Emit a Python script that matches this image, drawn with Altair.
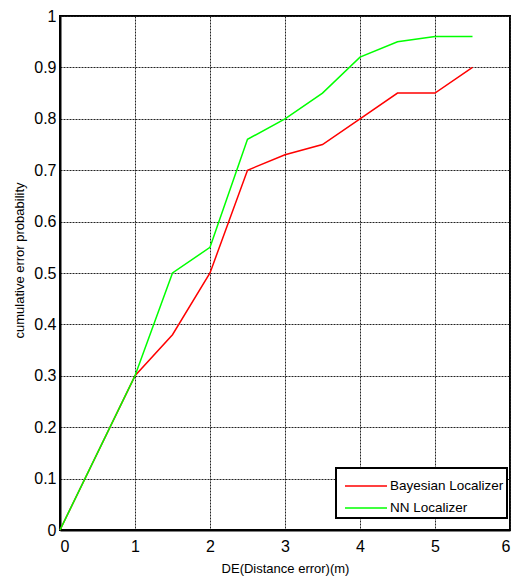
import altair as alt
import pandas as pd

x_vals = [0, 1, 1.5, 2, 2.5, 3, 3.5, 4, 4.5, 5, 5.5]
bayes = [0, 0.3, 0.38, 0.5, 0.7, 0.73, 0.75, 0.8, 0.85, 0.85, 0.9]
nn = [0, 0.3, 0.5, 0.55, 0.76, 0.8, 0.85, 0.92, 0.95, 0.96, 0.96]
series_names = ["Bayesian Localizer", "NN Localizer"]
series_colors = ["#ff0000", "#00ff00"]

rows = []
for xv, b in zip(x_vals, bayes):
    rows.append({"x": xv, "y": b, "series": series_names[0]})
for xv, n in zip(x_vals, nn):
    rows.append({"x": xv, "y": n, "series": series_names[1]})
df = pd.DataFrame(rows)

FONT = "Liberation Sans"

chart = alt.Chart(df).mark_line(strokeWidth=1.5).encode(
    x=alt.X("x:Q", scale=alt.Scale(domain=[0, 6], nice=False),
            axis=alt.Axis(values=[0, 1, 2, 3, 4, 5, 6], title="DE(Distance error)(m)",
                          format="d")),
    y=alt.Y("y:Q", scale=alt.Scale(domain=[0, 1], nice=False),
            axis=alt.Axis(values=[0, 0.1, 0.2, 0.3, 0.4, 0.5, 0.6, 0.7, 0.8, 0.9, 1],
                          title="cumulative error probability", titleY=244,
                          labelExpr="datum.value == 0 ? '0' : datum.value == 1 ? '1' : format(datum.value, '.1f')")),
    color=alt.Color("series:N", scale=alt.Scale(domain=series_names, range=series_colors),
                    legend=alt.Legend(title=None, orient="none", legendX=276, legendY=452,
                                      symbolType="M-1.5,0L1.5,0", symbolSize=784,
                                      symbolStrokeWidth=1.5, symbolOffset=12,
                                      labelFont=FONT, labelFontSize=13.5, labelColor="black",
                                      strokeColor="black", fillColor="white",
                                      padding=3, rowPadding=0, labelOffset=9,
                                      labelLimit=200)),
).properties(
    width=450, height=514,
    autosize=alt.AutoSizeParams(type="none"),
    padding={"left": 60, "top": 16, "right": 2, "bottom": 53},
).configure_view(
    stroke="black", strokeWidth=2
).configure_legend(
    strokeWidth=2
).configure_axis(
    domainColor="black", domainWidth=2,
    grid=True, gridColor="#222222", gridWidth=1, gridDash=[2, 1],
    ticks=False,
    labelFont=FONT, labelFontSize=16, labelColor="black",
    titleFont=FONT, titleFontSize=13, titleFontWeight="normal", titleColor="black",
).configure_axisX(
    labelPadding=8, titlePadding=8,
).configure_axisY(
    labelPadding=4, titlePadding=7,
)

chart.save("out.html", embed_options={"renderer": "svg", "actions": False})
